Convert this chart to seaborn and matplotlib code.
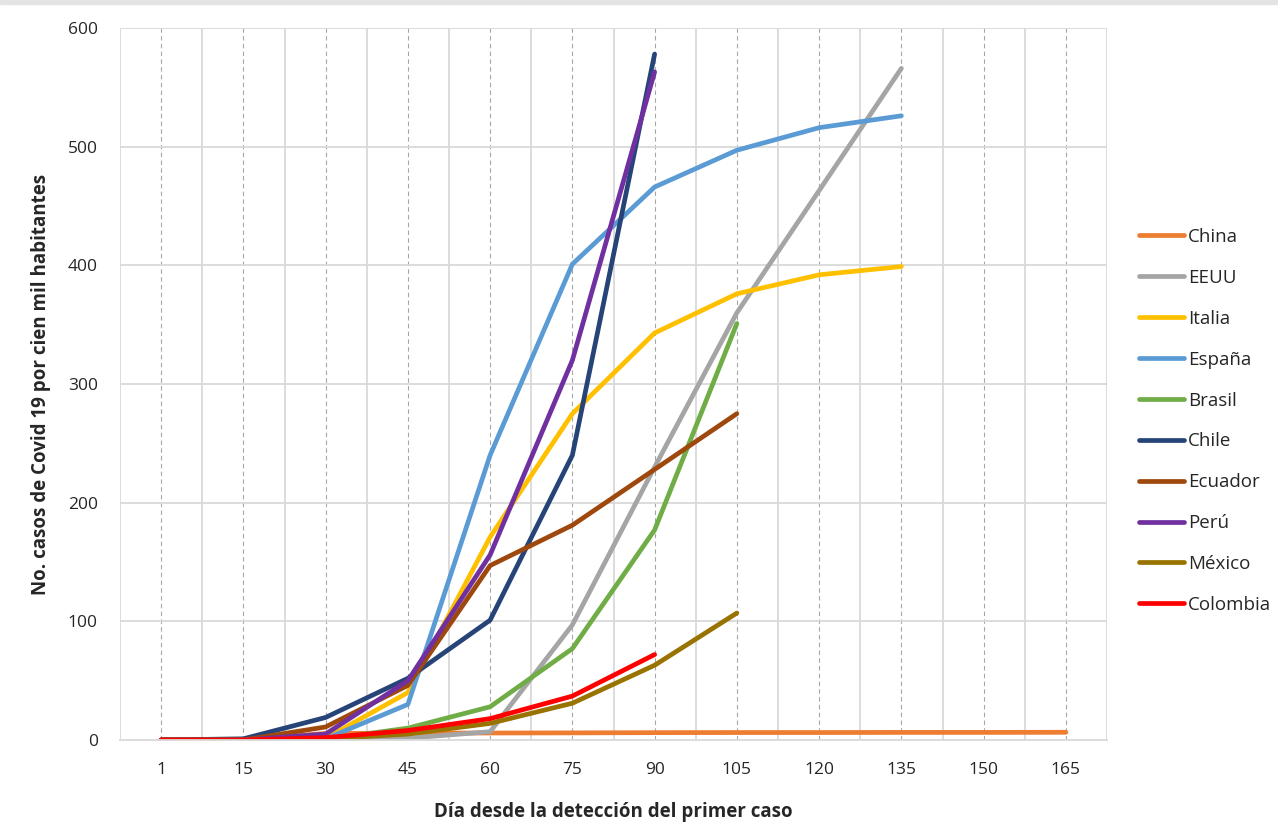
import matplotlib
matplotlib.use('Agg')
import matplotlib.pyplot as plt
import pandas as pd
import seaborn as sns
import numpy as np

# Data (cases per 100k inhabitants)
dias = ['1', '15', '30', '45', '60', '75', '90', '105', '120', '135', '150', '165']
china = [0.0, 0.4, 5.5, 5.8, 5.9, 6.0, 6.2, 6.3, 6.3, 6.4, 6.4, 6.5]
eeuu = [0.0, 0.0, 0.3, 1.5, 7, 97, 230, 360, 463, 566]
italia = [0.0, 0.0, 1.5, 40, 171, 275, 343, 376, 392, 399]
espana = [0.0, 0.0, 1.0, 30, 240, 401, 466, 497, 516, 526]
brasil = [0.0, 0.0, 0.5, 10, 28, 77, 177, 351]
chile = [0.0, 1.0, 19, 52, 101, 240, 578]
ecuador = [0.0, 0.0, 11, 46, 147, 181, 228, 275]
peru = [0.0, 0.0, 5, 50, 156, 320, 563]
mexico = [0.0, 0.0, 1.0, 5, 14, 31, 63, 107]
colombia = [0.0, 0.0, 2.0, 8, 18, 37, 72]

series = {'China': china, 'EEUU': eeuu, 'Italia': italia, 'España': espana,
          'Brasil': brasil, 'Chile': chile, 'Ecuador': ecuador, 'Perú': peru,
          'México': mexico, 'Colombia': colombia}
colores = {'China': '#ED7D31', 'EEUU': '#A5A5A5', 'Italia': '#FFC000',
           'España': '#5B9BD5', 'Brasil': '#70AD47', 'Chile': '#264478',
           'Ecuador': '#9E480E', 'Perú': '#7030A0', 'México': '#997300',
           'Colombia': '#FF0000'}

rows = []
for pais, vals in series.items():
    for i, v in enumerate(vals):
        rows.append({'pais': pais, 'pos': i, 'casos': v})
df = pd.DataFrame(rows)

sns.set_style('white')
plt.rcParams['font.family'] = ['Open Sans', 'DejaVu Sans']

fig = plt.figure(figsize=(12.78, 8.32), dpi=100)
ax = fig.add_axes([120/1278, 1-740/832, (1107-120)/1278, (740-28)/832])

# grid: solid at category boundaries, dashed at categories
for b in np.arange(-0.5, 12, 1):
    ax.axvline(b, color='#D9D9D9', lw=1.3, zorder=0)
for c in range(12):
    ax.axvline(c, color='#A6A6A6', lw=0.8, ls=(0, (4, 3)), zorder=0)
for y in range(100, 700, 100):
    ax.axhline(y, color='#D9D9D9', lw=1.3, zorder=0)

sns.lineplot(data=df, x='pos', y='casos', hue='pais', palette=colores,
             hue_order=list(series.keys()), lw=3.4, ax=ax, sort=False,
             solid_capstyle='round', legend=True)

ax.set_xlim(-0.5, 11.5)
ax.set_ylim(0, 600)
ax.set_xticks(range(12))
ax.set_xticklabels(dias)
ax.set_yticks(range(0, 700, 100))
ax.tick_params(axis='x', length=0, pad=16, labelsize=12.5, colors='#262626')
ax.tick_params(axis='y', length=0, pad=16, labelsize=12.5, colors='#262626')
for s in ['top', 'right', 'left']:
    ax.spines[s].set_visible(False)
ax.spines['bottom'].set_color('#D9D9D9')
ax.spines['bottom'].set_linewidth(1.3)

ax.set_xlabel('Día desde la detección del primer caso', fontsize=13.5,
              fontweight='bold', labelpad=17)
ax.set_ylabel('No. casos de Covid 19 por cien mil habitantes', fontsize=13.5,
              fontweight='bold', labelpad=12)

handles, labels = ax.get_legend_handles_labels()
ax.legend(handles, labels, loc='center left', bbox_to_anchor=(1122/1278, 0.494),
          bbox_transform=fig.transFigure, frameon=False, fontsize=13.5,
          labelspacing=1.22, handlelength=2.4, handletextpad=0.2)

# gray strip at the very top of the screenshot
fig.patches.append(plt.Rectangle((0, 1-4/832), 1, 4/832, transform=fig.transFigure,
                                 color='#E4E4E4', zorder=-1))

plt.savefig('out.png', dpi=100)
